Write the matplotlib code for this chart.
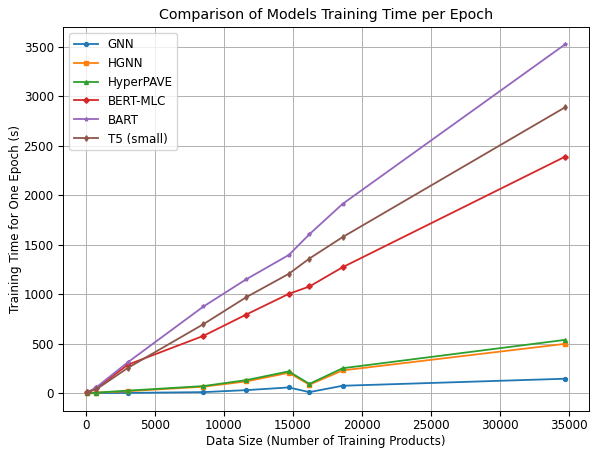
import matplotlib.pyplot as plt

# Tamanho dos dados (número de produtos de treino)
data_size = [120, 760, 3060, 8530, 11630, 14700, 16200, 18600, 34700]

# Tempo de treino por época (s) para cada modelo
gnn = [0, 3, 5, 13, 33, 60, 13, 77, 148]
hgnn = [0, 8, 22, 68, 121, 208, 88, 232, 500]
hyperpave = [0, 8, 28, 74, 134, 222, 96, 254, 540]
bert_mlc = [10, 50, 290, 581, 796, 1004, 1079, 1273, 2388]
bart = [10, 60, 315, 877, 1152, 1396, 1606, 1912, 3521]
t5_small = [15, 40, 258, 699, 971, 1206, 1361, 1577, 2886]

series = [
    ("GNN", gnn, "o"),
    ("HGNN", hgnn, "s"),
    ("HyperPAVE", hyperpave, "^"),
    ("BERT-MLC", bert_mlc, "D"),
    ("BART", bart, "*"),
    ("T5 (small)", t5_small, "d"),
]

# A figura original parece reduzida, então tudo fica um pouco menor
plt.rcParams['font.size'] = 8.6
plt.rcParams['lines.linewidth'] = 1.3
plt.rcParams['axes.linewidth'] = 0.7
plt.rcParams['grid.linewidth'] = 0.7
plt.rcParams['xtick.major.pad'] = 2.5

fig = plt.figure(figsize=(5.93, 4.5), dpi=100)

for nome, valores, marcador in series:
    plt.plot(data_size, valores, marker=marcador, markersize=2.8, label=nome)

plt.title("Comparison of Models Training Time per Epoch", fontsize=10.3)
plt.xlabel("Data Size (Number of Training Products)", labelpad=2)
plt.ylabel("Training Time for One Epoch (s)", labelpad=1.5)
plt.grid(True)
plt.legend(loc="upper left")

plt.subplots_adjust(left=0.107, right=0.993, bottom=0.087, top=0.94)
plt.savefig("out.png")
